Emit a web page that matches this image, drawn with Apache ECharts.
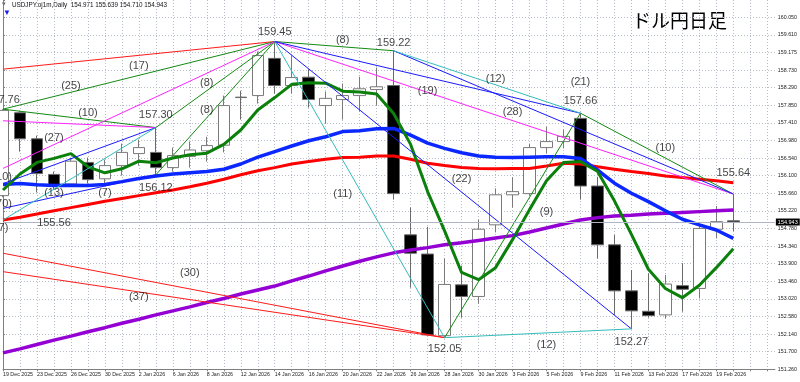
<!DOCTYPE html>
<html><head><meta charset="utf-8">
<script src="https://cdn.jsdelivr.net/npm/echarts@6/dist/echarts.min.js"></script>
<style>html,body{margin:0;padding:0;background:#fff}#c{width:800px;height:382px}</style>
</head><body><div id="c"></div>
<script>
// ---- data ----
const dates = ['19 Dec 2025','22 Dec 2025','23 Dec 2025','24 Dec 2025','26 Dec 2025','29 Dec 2025','30 Dec 2025','31 Dec 2025',
 '2 Jan 2026','5 Jan 2026','6 Jan 2026','7 Jan 2026','8 Jan 2026','9 Jan 2026','12 Jan 2026','13 Jan 2026','14 Jan 2026','15 Jan 2026','16 Jan 2026',
 '19 Jan 2026','20 Jan 2026','21 Jan 2026','22 Jan 2026','23 Jan 2026','26 Jan 2026','27 Jan 2026','28 Jan 2026','29 Jan 2026','30 Jan 2026',
 '2 Feb 2026','3 Feb 2026','4 Feb 2026','5 Feb 2026','6 Feb 2026','9 Feb 2026','10 Feb 2026','11 Feb 2026','12 Feb 2026','13 Feb 2026',
 '16 Feb 2026','17 Feb 2026','18 Feb 2026','19 Feb 2026','20 Feb 2026'];
const open  = [155.60,157.67,157.02,156.13,155.89,156.43,156.02,156.35,156.65,156.68,156.30,156.58,156.72,156.86,158.06,158.10,159.03,158.35,158.56,157.85,158.00,158.10,158.25,158.35,154.62,154.14,152.10,153.37,153.08,154.87,155.62,155.65,156.80,156.95,157.53,155.84,154.37,153.22,152.71,152.62,153.35,153.28,154.76,154.971];
const high  = [157.76,157.72,157.10,156.20,156.55,156.55,156.50,156.90,157.00,157.30,156.80,156.95,157.07,158.10,158.22,159.20,159.45,159.10,158.75,158.20,158.40,158.57,158.80,159.22,155.30,154.82,154.03,153.85,155.00,155.78,156.06,156.90,157.32,157.25,157.66,156.07,154.62,153.74,153.66,153.62,153.91,154.85,155.34,155.639];
const low   = [155.56,156.70,155.68,155.75,155.85,155.90,155.85,156.10,156.35,156.12,156.20,156.30,156.45,156.68,157.50,157.90,158.15,158.15,157.80,157.40,157.50,157.70,157.85,155.50,153.30,152.10,152.05,152.55,152.90,154.68,155.30,155.60,156.66,156.78,155.50,154.03,152.62,152.27,152.55,152.53,152.70,153.03,154.53,154.710];
const close = [157.73,157.02,156.15,155.85,156.46,156.00,156.35,156.68,156.80,156.30,156.60,156.74,156.85,157.85,158.05,159.10,158.35,158.55,158.00,158.03,158.10,158.27,158.32,155.65,154.16,152.12,153.38,153.08,154.76,155.62,155.70,156.80,156.95,157.08,155.84,154.37,153.22,152.72,152.60,153.39,153.26,154.78,154.95,154.943];

const maGreen  = [155.74,156.14,156.43,156.53,156.65,156.32,156.17,156.27,156.46,156.42,156.54,156.62,156.66,156.88,157.24,157.74,158.05,158.38,158.42,158.41,158.21,158.19,158.14,157.65,156.88,155.70,154.72,153.68,153.50,153.80,154.50,155.25,155.97,156.43,156.45,156.21,155.47,154.63,153.76,153.28,153.05,153.36,153.80,154.27];
const maBlue   = [155.88,155.90,155.87,155.85,155.86,155.85,155.88,155.95,156.03,156.09,156.14,156.17,156.20,156.26,156.39,156.56,156.70,156.84,156.97,157.07,157.20,157.22,157.27,157.28,157.11,156.91,156.78,156.67,156.59,156.56,156.55,156.56,156.57,156.57,156.53,156.24,155.91,155.66,155.45,155.22,155.01,154.87,154.74,154.53];
const maRed    = [154.99,155.06,155.14,155.22,155.30,155.38,155.46,155.53,155.60,155.67,155.74,155.82,155.91,156.01,156.12,156.22,156.30,156.39,156.45,156.51,156.55,156.56,156.59,156.59,156.51,156.41,156.35,156.30,156.28,156.27,156.28,156.28,156.34,156.41,156.39,156.32,156.26,156.20,156.15,156.09,156.05,156.01,155.97,155.92];
const maPurple = [151.67,151.77,151.88,151.99,152.09,152.20,152.30,152.41,152.51,152.62,152.72,152.82,152.93,153.03,153.14,153.24,153.34,153.47,153.59,153.72,153.84,153.96,154.07,154.17,154.24,154.30,154.37,154.42,154.48,154.54,154.60,154.69,154.79,154.89,154.99,155.05,155.09,155.11,155.14,155.16,155.18,155.20,155.22,155.24];

const yTickLabels = ['151.260','151.700','152.140','152.580','153.020','153.460','153.900','154.340','154.780','155.220','155.660','156.100','156.540','156.980','157.410','157.850','158.290','158.730','159.175','159.610','160.050'];

// trend lines: [[barFrom, priceFrom],[barTo, priceTo]]
const redLines     = [[[0,158.76],[16,159.45]], [[0,154.16],[26,152.05]], [[0,153.70],[26,152.05]]];
const greenLines   = [[[0,157.76],[16,159.45]], [[9,157.30],[16,159.45]], [[9,156.12],[16,159.45]], [[0,157.76],[9,157.30]],
                      [[16,159.45],[23,159.22]], [[26,152.05],[34,157.66]], [[34,157.66],[43,155.64]]];
const magentaLines = [[[0,156.28],[16,159.45]], [[0,157.47],[9,157.30]], [[16,159.45],[43,155.64]]];
const blueLines    = [[[0,155.90],[9,157.30]], [[0,155.28],[9,156.12]], [[16,159.45],[37,152.27]], [[16,159.45],[34,157.66]], [[23,159.22],[43,155.64]]];
const cyanLines    = [[[0,154.99],[9,157.30]], [[16,159.45],[26,152.05]], [[23,159.22],[34,157.66]], [[26,152.05],[37,152.27]]];

const priceLabels = [[16,159.68,'159.45'],[23,159.41,'159.22'],[9,157.61,'157.30'],[9,155.79,'156.12'],[0,157.99,'157.76'],
  [3,154.92,'155.56'],[26,151.77,'152.05'],[37,151.95,'152.27'],[34,157.96,'157.66'],[43,156.17,'155.64']];
const countLabels = [[8,158.84,'(17)'],[4,158.34,'(25)'],[5,157.66,'(10)'],[3,157.04,'(27)'],[12,158.41,'(8)'],[12,157.74,'(8)'],
  [3,155.66,'(13)'],[6,155.66,'(7)'],[20,159.49,'(8)'],[20,155.64,'(11)'],[25,158.21,'(19)'],[29,158.51,'(12)'],[30,157.69,'(28)'],
  [27,156.02,'(22)'],[11,153.67,'(30)'],[8,153.07,'(37)'],[34,158.45,'(21)'],[32,155.19,'(9)'],[32,151.87,'(12)'],[39,156.79,'(10)'],
  [-0.05,156.06,'(10)'],[-0.05,155.40,'(70)'],[-0.08,154.78,'(7)']];

const symbolName = 'USDJPY.oj1m,Daily';
const chartTitle = 'ドル円日足';

// ---- chart ----
const Y_MIN = parseFloat(yTickLabels[0]);
const Y_STEP = Y_MIN / 344;
const Y_MAX = 160.488;
const X_MAX = 45.446;
const last = close.length - 1;

const chart = echarts.init(document.getElementById('c'), null, {renderer: 'canvas'});
const series = [];
series.push({
  type: 'candlestick', name: 'price', z: 2, barWidth: 12, clip: true,
  data: open.map((o, i) => [i, o, close[i], low[i], high[i]]),
  itemStyle: {color: '#ffffff', color0: '#000000', borderColor: '#7a7a7a', borderColor0: '#6a6a6a', borderWidth: 1},
  markLine: {
    silent: true, symbol: ['none', 'none'], animation: false,
    lineStyle: {color: '#aeb6c4', width: 1, type: 'solid'},
    label: {show: true, position: 'end', formatter: close[last].toFixed(3), color: '#fff', backgroundColor: '#000',
      fontSize: 5.5, padding: [1, 2, 0, 2], distance: 1, fontFamily: 'Liberation Sans'},
    data: [{yAxis: close[last]}]
  }
});
function maSeries(arr, color, width) {
  return {type: 'line', z: 3, showSymbol: false, symbol: 'none', smooth: false, clip: true,
    lineStyle: {color: color, width: width}, data: arr.map((v, i) => [i, v]), animation: false};
}
series.push(maSeries(maPurple, '#9400d3', 3.5));
series.push(maSeries(maRed, '#ff0000', 3));
series.push(maSeries(maBlue, '#0a28ff', 3.5));
series.push(maSeries(maGreen, '#0b800b', 3));
function addLines(list, color, width) {
  list.forEach(seg => series.push({type: 'line', z: 4, showSymbol: false, symbol: 'none', clip: true, animation: false,
    lineStyle: {color: color, width: width}, data: seg}));
}
addLines(redLines, '#ff1a1a', 1);
addLines(greenLines, '#138a13', 1);
addLines(magentaLines, '#ff22ff', 1);
addLines(blueLines, '#1a1aff', 1);
addLines(cyanLines, '#33bcbc', 1);
series.push({type: 'scatter', z: 6, symbolSize: 0, clip: false, silent: true, animation: false,
  data: priceLabels.concat(countLabels),
  label: {show: true, position: 'inside', formatter: p => p.data[2], color: '#111', fontSize: 11, fontFamily: 'Liberation Sans'}});

chart.setOption({
  animation: false,
  backgroundColor: '#ffffff',
  grid: {left: 2, right: 24.5, top: 0, bottom: 12.7, show: false},
  xAxis: {
    type: 'value', min: 0, max: X_MAX, interval: 1,
    axisLine: {show: true, onZero: false, lineStyle: {color: '#7f7f7f', width: 1}},
    axisTick: {show: true, length: 2, lineStyle: {color: '#7f7f7f'}},
    axisLabel: {show: true, align: 'left', margin: 3, fontSize: 5.3, color: '#222', fontFamily: 'Liberation Sans',
      showMaxLabel: false, showMinLabel: true,
      formatter: v => (Number.isInteger(v) && v % 2 === 0 && v < dates.length) ? dates[v] : ''},
    splitLine: {show: true, showMaxLine: false, lineStyle: {color: '#b7bdc8', width: 1, type: [1, 2]}}
  },
  yAxis: {
    type: 'value', position: 'right', min: Y_MIN, max: Y_MAX, interval: Y_STEP,
    axisLine: {show: true, lineStyle: {color: '#7f7f7f', width: 1}},
    axisTick: {show: true, length: 2, lineStyle: {color: '#7f7f7f'}},
    axisLabel: {show: true, margin: 3, fontSize: 5.3, color: '#222', fontFamily: 'Liberation Sans',
      formatter: v => { const k = Math.round((v - Y_MIN) / Y_STEP); return (k >= 0 && k < yTickLabels.length && Math.abs(v - Y_MIN - k * Y_STEP) < 1e-6) ? yTickLabels[k] : ''; }},
    splitLine: {show: true, showMinLine: false, showMaxLine: false, lineStyle: {color: '#b7bdc8', width: 1, type: [1, 2]}}
  },
  graphic: [
    {type: 'text', left: 2, top: 1, style: {text: '▾', fontSize: 7, fill: '#555'}},
    {type: 'text', left: 12, top: 2, style: {text: symbolName + '  ' + [open[last], high[last], low[last], close[last]].map(v => v.toFixed(3)).join(' '),
      fontSize: 6.3, fill: '#111', fontFamily: 'Liberation Sans'}},
    {type: 'text', left: 3, top: 9, style: {text: '▼', fontSize: 8, fill: '#1a1ae6'}},
    {type: 'text', left: 632, top: 11, style: {text: chartTitle, fontSize: 19, fill: '#000', fontFamily: 'Noto Sans CJK JP'}}
  ],
  series: series
});
</script></body></html>
